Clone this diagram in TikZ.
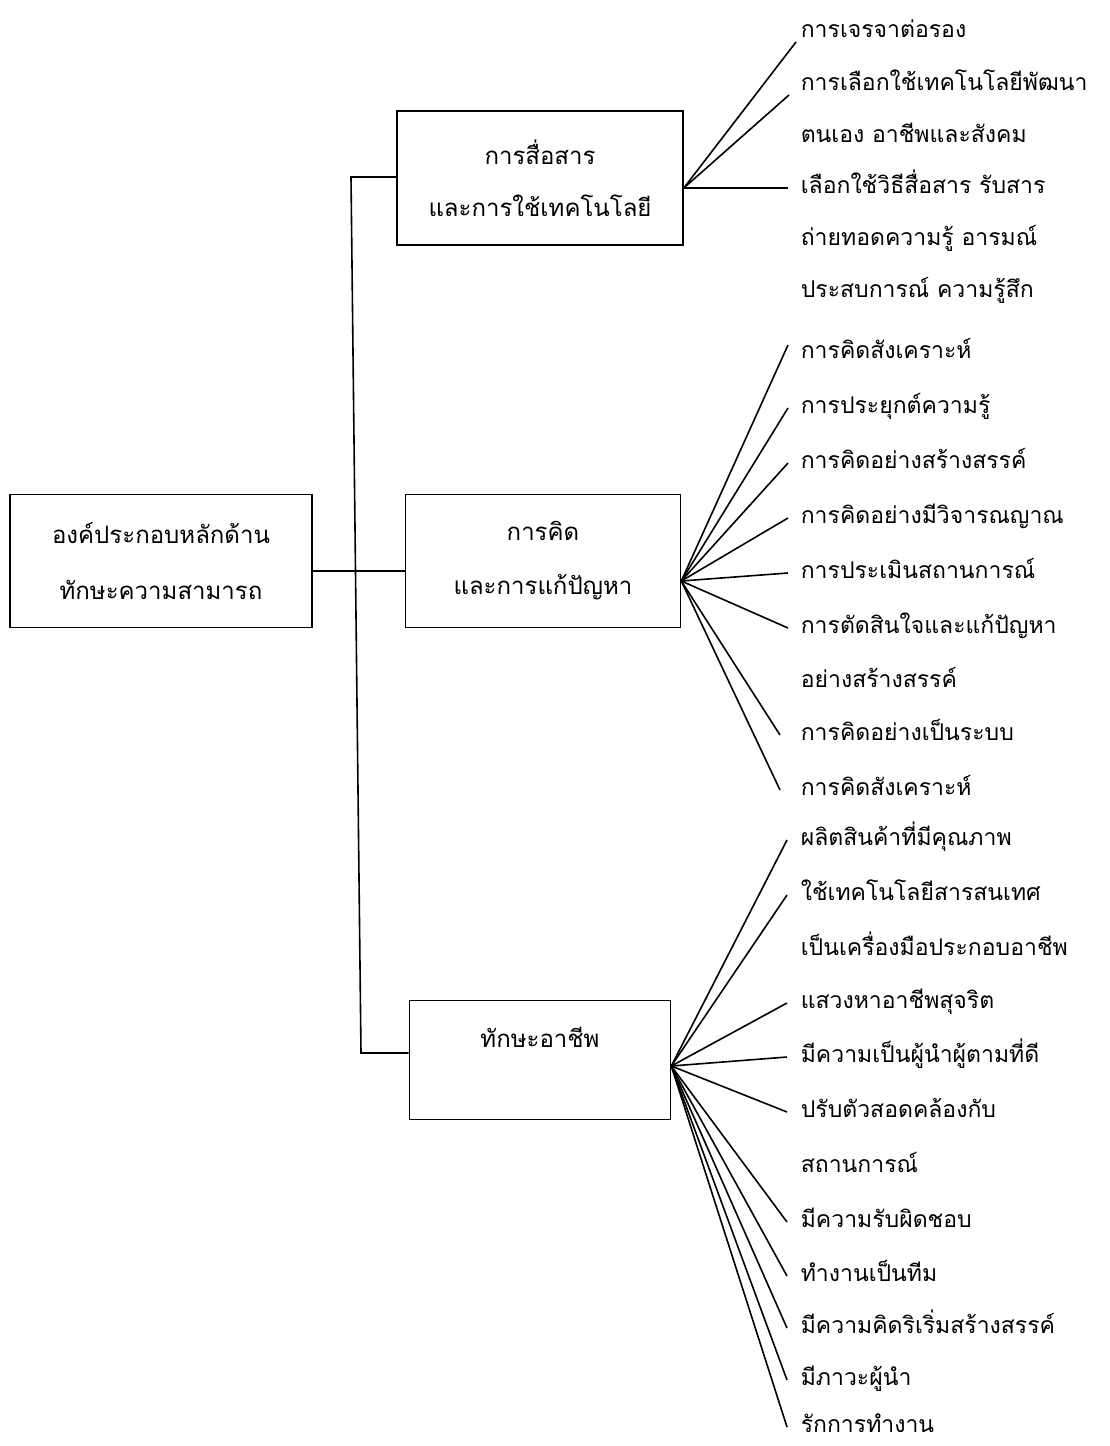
\documentclass[tikz,border=0pt]{standalone}
\usepackage{fontspec}
\setmainfont[Script=Thai]{Loma}
\usetikzlibrary{positioning}

\begin{document}
\begin{tikzpicture}[x=1pt, y=-1pt, line width=1.6pt,
      box/.style={draw, align=center, inner sep=0pt,
                  font=\fontsize{24}{52}\selectfont},
      item/.style={anchor=west, inner sep=0pt, text height=17pt, text depth=6pt,
                   font=\fontsize{23}{30}\selectfont}]

    \useasboundingbox (0,0) rectangle (1109,1446);

    % main boxes
    \node[box, minimum width=302pt, minimum height=133pt] (root) at (161,561)
      {องค์ประกอบหลักด้าน\\[4pt]ทักษะความสามารถ};
    \node[box, minimum width=286pt, minimum height=134pt] (comm) at (540,178)
      {การสื่อสาร\\และการใช้เทคโนโลยี};
    \node[box, minimum width=275pt, minimum height=133pt] (think) at (543,561)
      {การคิด\\[2pt]และการแก้ปัญหา};
    \node[box, minimum width=261pt, minimum height=119pt,
          text height=20pt, text depth=46pt] (career) at (540,1060) {ทักษะอาชีพ};

    % items of the first box
    \node[item] (cm1) at (800,32)  {การเจรจาต่อรอง};
    \node[item] (cm2) at (800,85)  {การเลือกใช้เทคโนโลยีพัฒนา};
    \node[item] (cm3) at (800,137) {ตนเอง อาชีพและสังคม};
    \node[item] (cm4) at (800,188) {เลือกใช้วิธีสื่อสาร รับสาร};
    \node[item] (cm5) at (800,240) {ถ่ายทอดความรู้ อารมณ์};
    \node[item] (cm6) at (800,292) {ประสบการณ์ ความรู้สึก};

    % items of the second box
    \node[item] (tk1) at (800,353) {การคิดสังเคราะห์};
    \node[item] (tk2) at (800,408) {การประยุกต์ความรู้};
    \node[item] (tk3) at (800,463) {การคิดอย่างสร้างสรรค์};
    \node[item] (tk4) at (800,518) {การคิดอย่างมีวิจารณญาณ};
    \node[item] (tk5) at (800,573) {การประเมินสถานการณ์};
    \node[item] (tk6) at (800,628) {การตัดสินใจและแก้ปัญหา};
    \node[item] (tk7) at (800,682) {อย่างสร้างสรรค์};
    \node[item] (tk8) at (800,735) {การคิดอย่างเป็นระบบ};
    \node[item] (tk9) at (800,790) {การคิดสังเคราะห์};

    % items of the third box
    \node[item] (cr1)  at (800,840)  {ผลิตสินค้าที่มีคุณภาพ};
    \node[item] (cr2)  at (800,895)  {ใช้เทคโนโลยีสารสนเทศ};
    \node[item] (cr3)  at (800,950)  {เป็นเครื่องมือประกอบอาชีพ};
    \node[item] (cr4)  at (800,1003) {แสวงหาอาชีพสุจริต};
    \node[item] (cr5)  at (800,1057) {มีความเป็นผู้นำผู้ตามที่ดี};
    \node[item] (cr6)  at (800,1112) {ปรับตัวสอดคล้องกับ};
    \node[item] (cr7)  at (800,1167) {สถานการณ์};
    \node[item] (cr8)  at (800,1222) {มีความรับผิดชอบ};
    \node[item] (cr9)  at (800,1276) {ทำงานเป็นทีม};
    \node[item] (cr10) at (800,1328) {มีความคิดริเริ่มสร้างสรรค์};
    \node[item] (cr11) at (800,1380) {มีภาวะผู้นำ};
    \node[item] (cr12) at (800,1427) {รักการทำงาน};

    % trunk
    \coordinate (trunkTop) at (351,177);
    \coordinate (trunkBot) at (361,1053);
    \coordinate (rootLink) at (0,571);
    \draw (comm.west |- trunkTop) -- (trunkTop) -- (trunkBot) -- (career.west |- trunkBot);
    \draw (root.east |- rootLink) -- (think.west |- rootLink);

    % fans
    \coordinate (commFan) at ([yshift=-10pt]comm.east);
    \coordinate (thinkFan) at ([yshift=-20pt]think.east);
    \coordinate (careerFan) at ([yshift=-6pt]career.east);

    \draw (commFan) -- ([xshift=-4pt,yshift=-10pt]cm1.west);
    \draw (commFan) -- ([xshift=-11pt,yshift=-10pt]cm2.west);
    \draw (commFan) -- ([xshift=-12pt]cm4.west);

    \draw (thinkFan) -- ([xshift=-12pt,yshift=8pt]tk1.west);
    \draw (thinkFan) -- ([xshift=-12pt]tk2.west);
    \draw (thinkFan) -- ([xshift=-12pt]tk3.west);
    \draw (thinkFan) -- ([xshift=-12pt]tk4.west);
    \draw (thinkFan) -- ([xshift=-12pt]tk5.west);
    \draw (thinkFan) -- ([xshift=-12pt]tk6.west);
    \draw (thinkFan) -- ([xshift=-20pt]tk8.west);
    \draw (thinkFan) -- ([xshift=-20pt]tk9.west);

    \draw (careerFan) -- ([xshift=-13pt]cr1.west);
    \draw (careerFan) -- ([xshift=-13pt]cr2.west);
    \draw (careerFan) -- ([xshift=-13pt]cr4.west);
    \draw (careerFan) -- ([xshift=-13pt]cr5.west);
    \draw (careerFan) -- ([xshift=-13pt]cr6.west);
    \draw (careerFan) -- ([xshift=-13pt]cr8.west);
    \draw (careerFan) -- ([xshift=-13pt]cr9.west);
    \draw (careerFan) -- ([xshift=-13pt]cr10.west);
    \draw (careerFan) -- ([xshift=-13pt]cr11.west);
    \draw (careerFan) -- ([xshift=-13pt]cr12.west);
  \end{tikzpicture}
\end{document}
